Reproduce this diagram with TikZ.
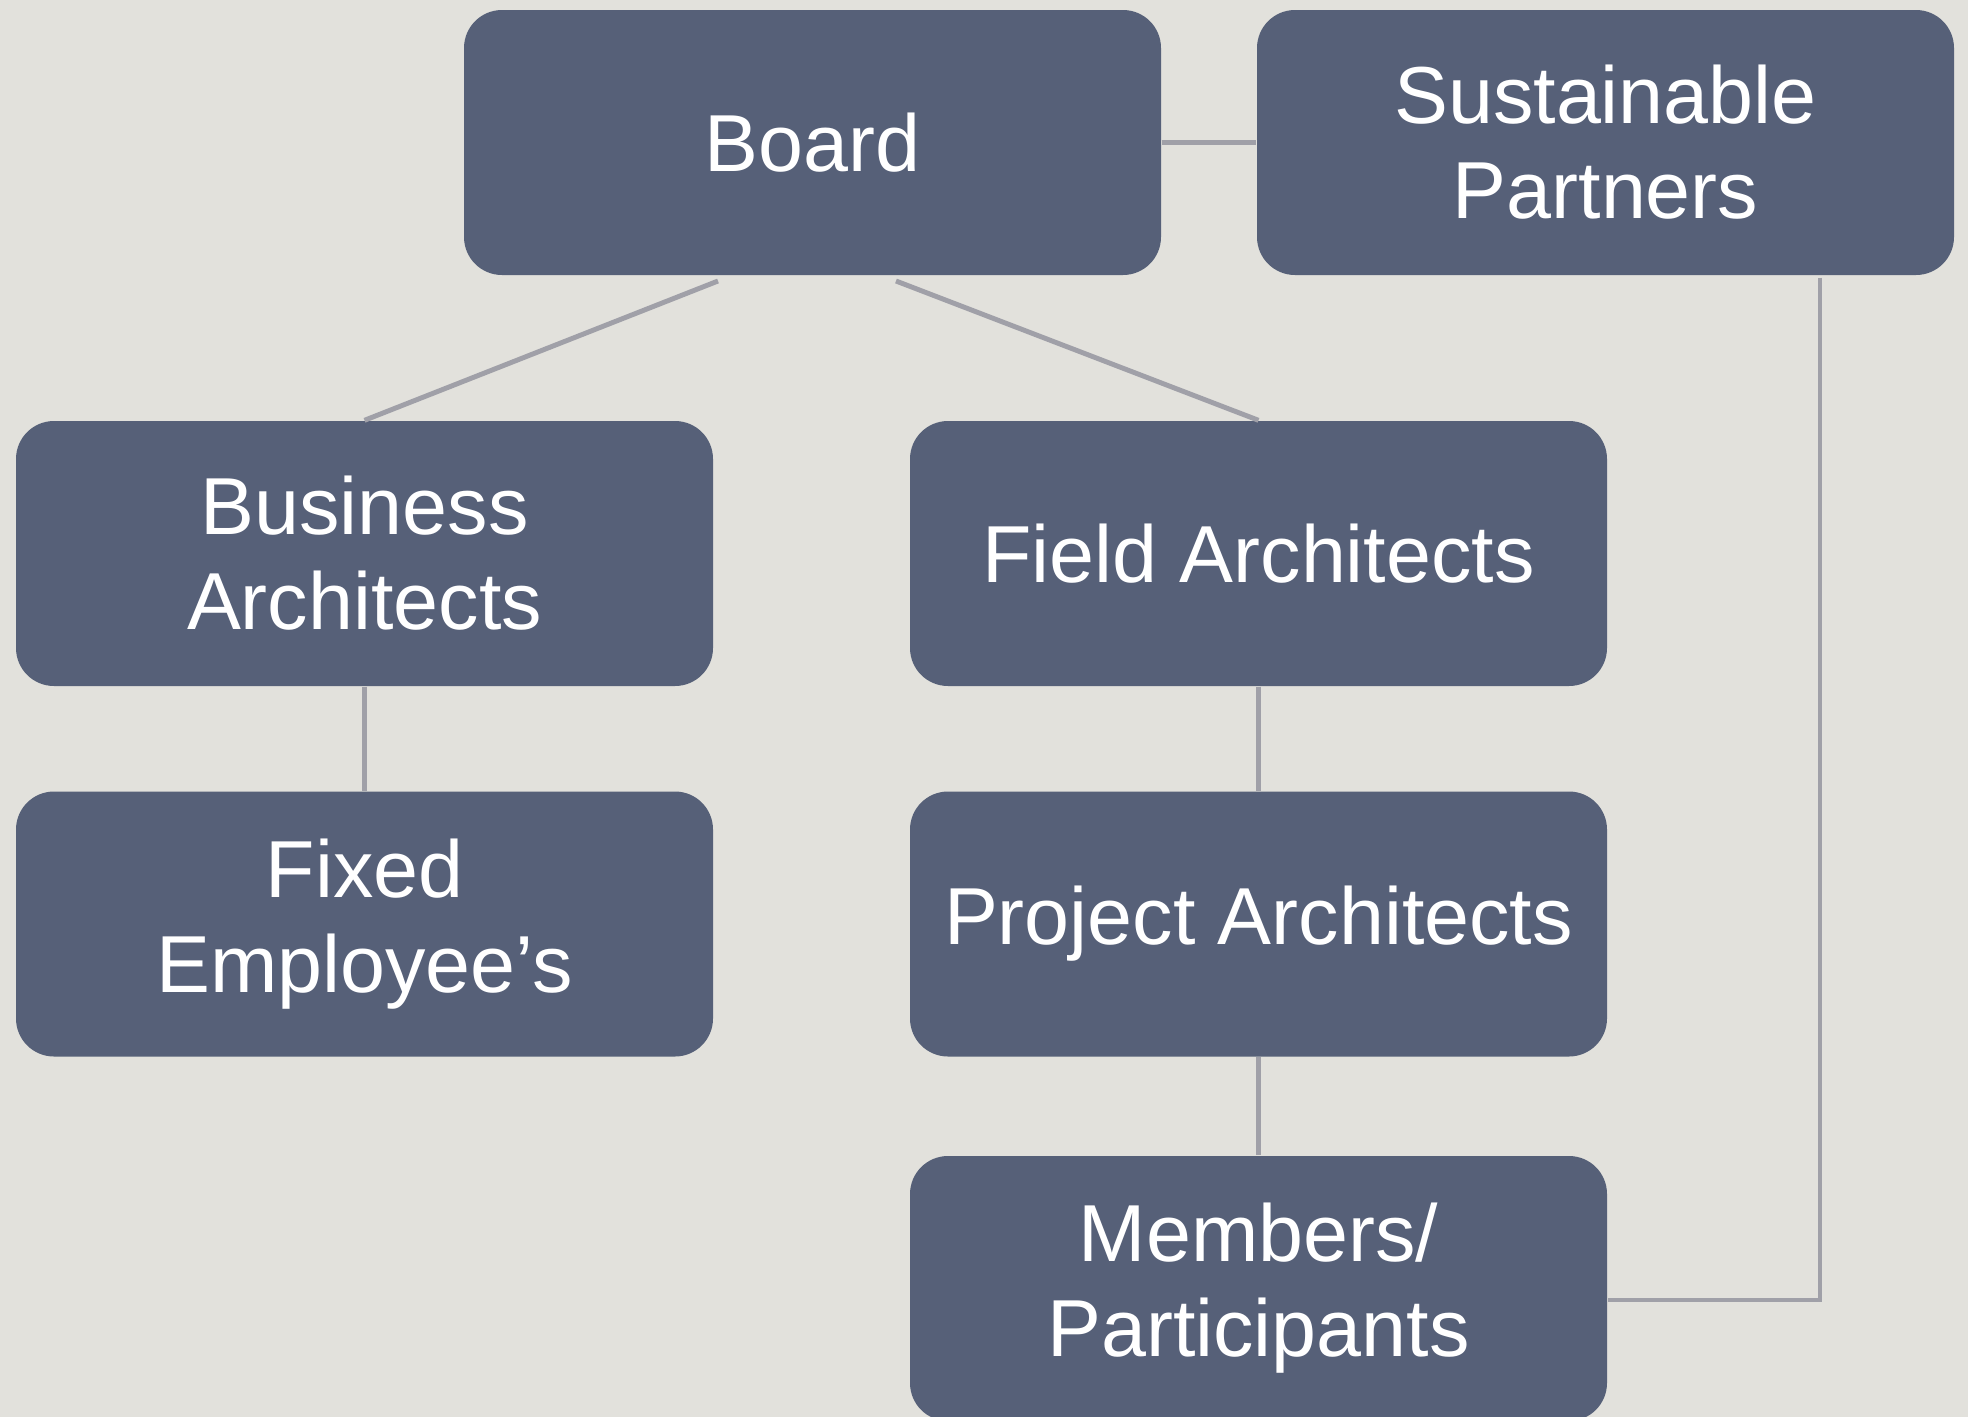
\documentclass[tikz,border=0pt]{standalone}
\usepackage{fontspec}
\setmainfont{Liberation Sans}
\usepackage{tikz}
\usetikzlibrary{positioning}

\definecolor{bgcol}{RGB}{226,225,220}
\definecolor{boxcol}{RGB}{86,96,120}
\definecolor{linkcol}{RGB}{160,160,168}

\begin{document}
\begin{tikzpicture}
  [auto=center,every node/.style={rectangle,rounded corners=0.38cm,fill=boxcol,
   text=white,minimum width=6.97cm,minimum height=2.65cm,inner sep=0pt,
   align=center,font=\fontsize{23}{27}\selectfont},
   link/.style={draw=linkcol,line width=1.4pt}]

  \fill[bgcol] (0,0) rectangle (19.68,-14.17);
  \useasboundingbox (0,0) rectangle (19.68,-14.17);

  \node (bd) at (8.125,-1.425)   {Board};
  \node (sp) at (16.055,-1.425)  {Sustainable\\Partners};
  \node (ba) at (3.645,-5.535)   {Business\\Architects};
  \node (fa) at (12.585,-5.535)  {Field Architects};
  \node (fe) at (3.645,-9.24)    {Fixed\\Employee’s};
  \node (pa) at (12.585,-9.24)   {Project Architects};
  \node (mp) at (12.585,-12.885) {Members/\\Participants};

  \coordinate (c1) at (7.18,-2.81);
  \coordinate (c2) at (8.96,-2.81);
  \coordinate (c3) at (18.2,-13.0);

  \draw[link] (bd) -- (sp);
  \draw[link] (c1) -- (ba.north);
  \draw[link] (c2) -- (fa.north);
  \draw[link] (ba) -- (fe);
  \draw[link] (fa) -- (pa);
  \draw[link] (pa) -- (mp);
  \draw[link] ([yshift=-0.02cm]sp.south -| c3) -- (c3) -- (mp.east |- c3);

\end{tikzpicture}
\end{document}
